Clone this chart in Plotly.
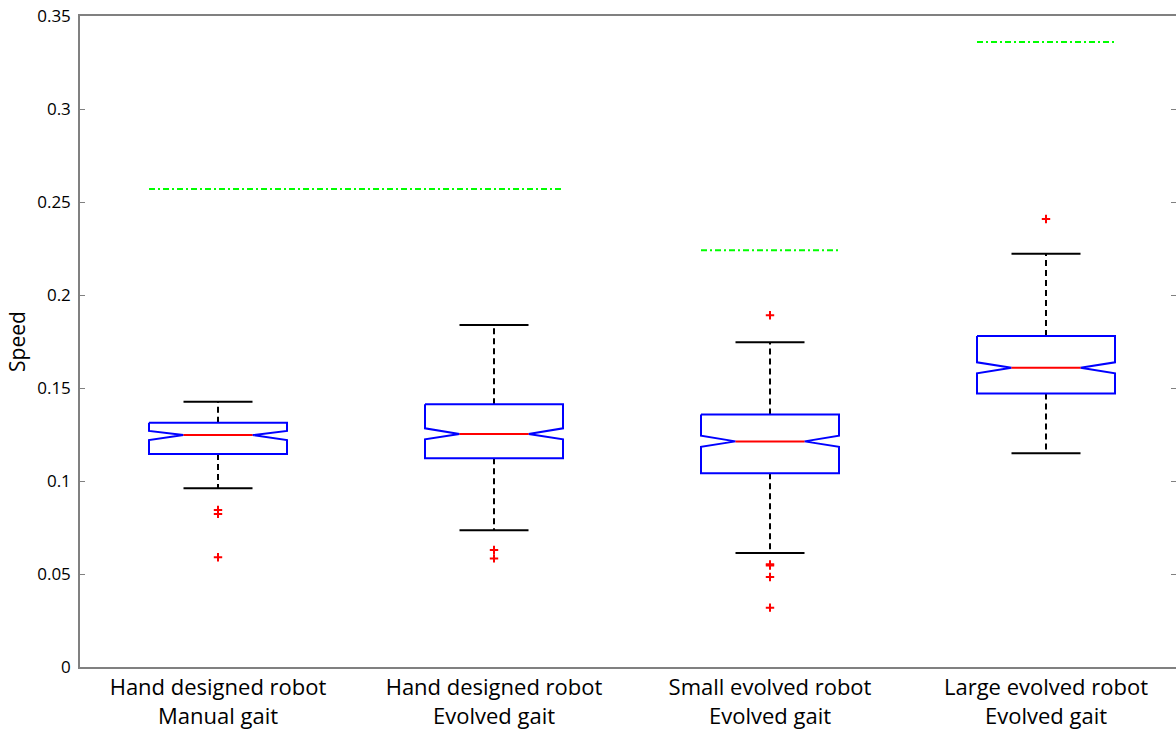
import plotly.graph_objects as go

# ---- data ----
categories = ["Hand designed robot<br>Manual gait",
              "Hand designed robot<br>Evolved gait",
              "Small evolved robot<br>Evolved gait",
              "Large evolved robot<br>Evolved gait"]
whisker_hi = [0.1426, 0.1839, 0.1746, 0.2222]
q3 = [0.1313, 0.1412, 0.1358, 0.1780]
notch_hi = [0.1269, 0.1283, 0.1244, 0.1638]
median = [0.1247, 0.1253, 0.1213, 0.1609]
notch_lo = [0.1220, 0.1224, 0.1184, 0.1579]
q1 = [0.1145, 0.1122, 0.1041, 0.1471]
whisker_lo = [0.0961, 0.0735, 0.0613, 0.1149]
outliers = [[0.0844, 0.0823, 0.0590],
            [0.0629, 0.0584],
            [0.1891, 0.0552, 0.0546, 0.0484, 0.0319],
            [0.2409]]
# reference (best) levels, with first/last group they span
ref_levels = [0.2570, 0.2240, 0.3360]
ref_groups = [(1, 2), (3, 3), (4, 4)]

# ---- style ----
W = 0.25      # box half-width
NW = 0.125    # notch inner half-width / cap half-width
BLUE = "#0000ff"
FONT = "Open Sans"

fig = go.Figure()
positions = list(range(1, len(categories) + 1))

for i, c in enumerate(positions):
    # whiskers (dashed)
    fig.add_trace(go.Scatter(x=[c, c, None, c, c],
                             y=[q3[i], whisker_hi[i], None, q1[i], whisker_lo[i]],
                             mode="lines", line=dict(color="black", width=2, dash="6px,4px"),
                             hoverinfo="skip", showlegend=False))
    # caps
    fig.add_trace(go.Scatter(x=[c - NW, c + NW, None, c - NW, c + NW],
                             y=[whisker_hi[i], whisker_hi[i], None, whisker_lo[i], whisker_lo[i]],
                             mode="lines", line=dict(color="black", width=2),
                             hoverinfo="skip", showlegend=False))
    # notched box
    bx = [c - W, c + W, c + W, c + NW, c + W, c + W, c - W, c - W, c - NW, c - W, c - W]
    by = [q3[i], q3[i], notch_hi[i], median[i], notch_lo[i], q1[i], q1[i],
          notch_lo[i], median[i], notch_hi[i], q3[i]]
    fig.add_trace(go.Scatter(x=bx, y=by, mode="lines", line=dict(color=BLUE, width=2),
                             hoverinfo="skip", showlegend=False))
    # median
    fig.add_trace(go.Scatter(x=[c - NW, c + NW], y=[median[i], median[i]], mode="lines",
                             line=dict(color="red", width=2), hoverinfo="skip", showlegend=False))
    # outliers
    fig.add_trace(go.Scatter(x=[c] * len(outliers[i]), y=outliers[i], mode="markers",
                             marker=dict(symbol="cross-thin", size=6, color="red",
                                         line=dict(color="red", width=2)),
                             hoverinfo="skip", showlegend=False))

# reference lines (green dash-dot)
for lvl, (g0, g1) in zip(ref_levels, ref_groups):
    fig.add_trace(go.Scatter(x=[g0 - W, g1 + W], y=[lvl, lvl], mode="lines",
                             line=dict(color="#00ff00", width=2, dash="6px,3px,2px,3px"),
                             hoverinfo="skip", showlegend=False))

# invisible trace on the right axis to show its inner ticks
fig.add_trace(go.Scatter(x=[1], y=[0], yaxis="y2", mode="markers",
                         marker=dict(opacity=0), hoverinfo="skip", showlegend=False))

yticks = [0, 0.05, 0.1, 0.15, 0.2, 0.25, 0.3, 0.35]
ytext = ["0", "0.05", "0.1", "0.15", "0.2", "0.25", "0.3", "0.35"]

fig.update_layout(
    width=1176, height=729,
    margin=dict(l=80, r=0, t=16, b=62, autoexpand=False),
    paper_bgcolor="white", plot_bgcolor="white",
    font=dict(family=FONT, color="black"),
    xaxis=dict(range=[0.5, 0.5 + 1096 / 276], tickvals=positions, ticktext=categories,
               showgrid=False, zeroline=False, showline=True, mirror=True,
               linecolor="#808080", linewidth=1.5, ticks="", automargin=False,
               tickfont=dict(size=22, family=FONT)),
    yaxis=dict(range=[0, 0.35], tickvals=yticks, ticktext=ytext,
               showgrid=False, zeroline=False, showline=True, linecolor="#808080",
               linewidth=1.5, ticks="inside", ticklen=5, tickcolor="#808080",
               ticklabelstandoff=4, ticklabeloverflow="allow", automargin=False,
               tickfont=dict(size=17, family=FONT),
               title=dict(text="Speed", font=dict(size=21, family=FONT), standoff=6)),
    yaxis2=dict(range=[0, 0.35], overlaying="y", side="right", tickvals=yticks,
                showticklabels=False, showgrid=False, zeroline=False, showline=False,
                ticks="inside", ticklen=5, tickcolor="#808080", automargin=False),
)

fig.write_html("out.html", config={"displayModeBar": False},
               post_script="document.body.style.margin='0';document.body.style.overflow='hidden';")
